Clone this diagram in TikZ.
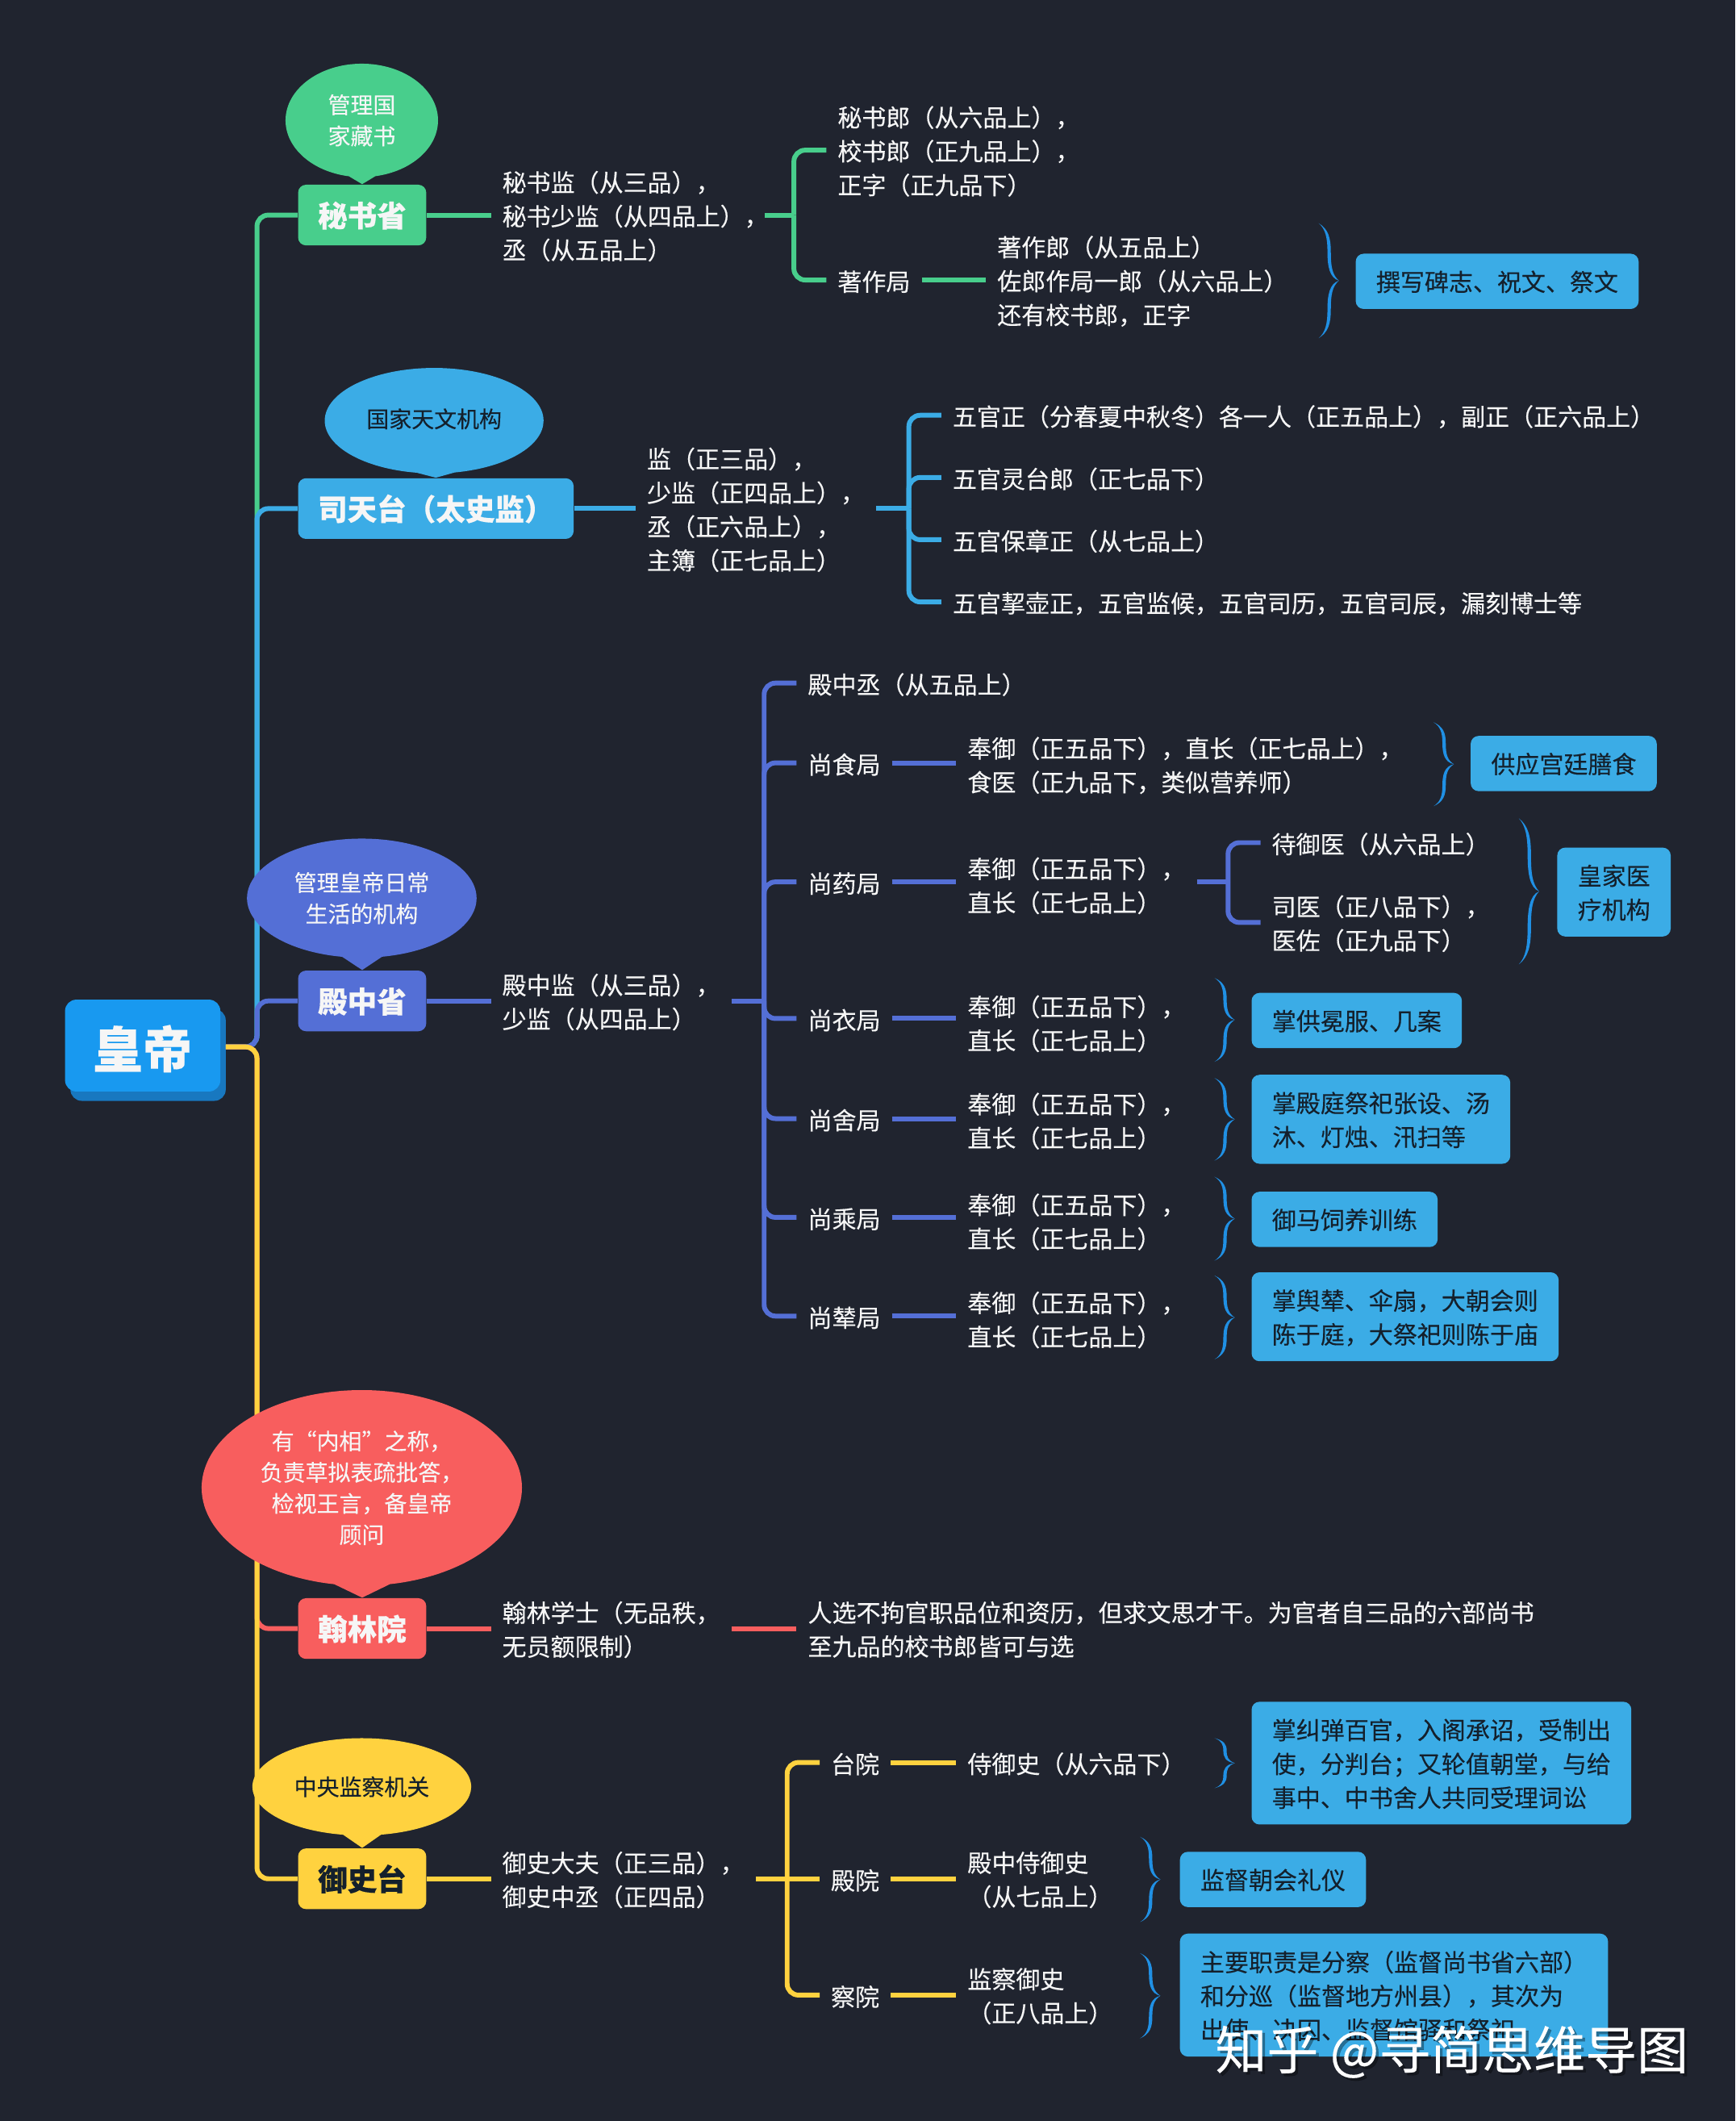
\documentclass[tikz,border=0pt]{standalone}
\usepackage{fontspec}
\setmainfont{Noto Sans CJK SC}[FakeBold=0.2]
\usetikzlibrary{shapes.callouts,shadows}
\definecolor{bgcol}{HTML}{20242F}
\definecolor{grn}{HTML}{48CE8C}
\definecolor{blu}{HTML}{3BACE6}
\definecolor{ind}{HTML}{546FD6}
\definecolor{red1}{HTML}{F85E5E}
\definecolor{yel}{HTML}{FFD23F}
\definecolor{rootcol}{HTML}{1899F0}
\definecolor{rootdark}{HTML}{1878C0}
\definecolor{bracecol}{HTML}{2090E4}
\definecolor{ink}{HTML}{14202C}
\definecolor{paper}{HTML}{F6F6F6}
\tikzset{
  lowered/.style={execute at begin node={\rule{0pt}{#1}}},
  plain/.style={anchor=west,inner xsep=3.8pt,inner ysep=0pt,align=left,text=paper,
    font=\fontsize{8.54}{11.93}\selectfont},
  txt/.style={plain,text depth=-1.2pt},
  txtone/.style={plain,lowered=8.4pt},
  branch/.style={anchor=west,fill=#1,rounded corners=2.8pt,inner xsep=7pt,inner ysep=0pt,lowered=9.3pt,
    minimum height=21.4pt,text=paper,font=\fontsize{10.4}{12}\selectfont\bfseries},
  panel/.style={anchor=west,fill=blu,rounded corners=2.8pt,inner xsep=7.2pt,
    align=left,text=ink,font=\fontsize{8.54}{11.93}\selectfont},
  note/.style={panel,inner ysep=6pt,text depth=.2pt},
  noteone/.style={panel,inner ysep=5.2pt,lowered=7.6pt,minimum height=19.5pt},
  bubble/.style={ellipse callout,fill=#1,inner sep=0pt,align=center,callout pointer arc=20,
    text=paper,font=\fontsize{7.95}{11}\selectfont},
  wire/.style={line width=1.7pt,draw=#1},
  fork/.style={line width=1.7pt,draw=#1,rounded corners=4pt}
}
\newcommand{\curly}[3]{%
  \pgfmathsetmacro{\ym}{(#2+#3)/2}
  \pgfmathsetmacro{\qq}{(#3-#2)/4}
  \fill[bracecol] (#1,#2) .. controls (#1+7,#2+\qq*.2) and (#1+9,#2+\qq*.5) .. (#1+9,#2+\qq)
    .. controls (#1+9,\ym-\qq*.5) and (#1+10,\ym-\qq*.2) .. (#1+15,\ym)
    .. controls (#1+10,\ym+\qq*.2) and (#1+9,\ym+\qq*.5) .. (#1+9,#3-\qq)
    .. controls (#1+9,#3-\qq*.5) and (#1+7,#3-\qq*.2) .. (#1,#3)
    .. controls (#1+5,#3-\qq*.2) and (#1+6.5,#3-\qq*.5) .. (#1+6.5,#3-\qq)
    .. controls (#1+6.5,\ym+\qq*.5) and (#1+8,\ym+\qq*.1) .. (#1+15,\ym)
    .. controls (#1+8,\ym-\qq*.1) and (#1+6.5,\ym-\qq*.5) .. (#1+6.5,#2+\qq)
    .. controls (#1+6.5,#2+\qq*.5) and (#1+5,#2+\qq*.2) .. (#1,#2) -- cycle;
}
\begin{document}
\begin{tikzpicture}[x=0.0167654cm,y=-0.0167654cm]
  \fill[bgcol] (0,0) rectangle (1283,1568.1);
  \useasboundingbox (0,0) rectangle (1283,1568.1);

  % root and the five offices
  \node[fill=rootcol,rounded corners=4pt,minimum width=54.8pt,minimum height=32.4pt,inner sep=0pt,lowered=17.3pt,
    general shadow={fill=rootdark,shadow xshift=1.9pt,shadow yshift=-3.3pt},
    text=paper,font=\fontsize{17.5}{20}\selectfont\bfseries] (root) at (105.5,773) {皇帝};
  \coordinate (rootout) at (167,774);
  \coordinate (trunk) at (190,774);
  \node[branch=grn] (mishu) at (220,159) {秘书省};
  \node[branch=blu] (sitian) at (220,376) {司天台（太史监）};
  \node[branch=ind] (dianzhong) at (220,740) {殿中省};
  \node[branch=red1] (hanlin) at (220,1204) {翰林院};
  \node[branch=yel,text=ink] (yushi) at (220,1389) {御史台};

  \draw[fork=grn] (rootout) -- (trunk) -- (trunk|-mishu.west) -- (mishu.west);
  \draw[fork=blu] (rootout) -- (trunk) -- (trunk|-sitian.west) -- (sitian.west);
  \draw[fork=ind] (rootout) -- (trunk) -- (trunk|-dianzhong.west) -- (dianzhong.west);
  \draw[fork=red1] (rootout) -- (trunk) -- (trunk|-hanlin.west) -- (hanlin.west);
  \draw[fork=yel] (rootout) -- (trunk) -- (trunk|-yushi.west) -- (yushi.west);

  % bubbles
  \node[bubble=grn,minimum width=53.8pt,minimum height=40pt,callout absolute pointer={(mishu.north)}]
    (bub1) at (267.5,89) {管理国\\家藏书};
  \node[bubble=blu,text=ink,minimum width=77.2pt,minimum height=37.2pt,callout absolute pointer={(sitian.north)}]
    (bub2) at (321,311) {\raisebox{1.9pt}{国家天文机构}};
  \node[bubble=ind,minimum width=81pt,minimum height=42pt,callout absolute pointer={(dianzhong.north)}]
    (bub3) at (267.5,664) {管理皇帝日常\\生活的机构};
  \node[bubble=red1,minimum width=113pt,minimum height=69pt,callout absolute pointer={(hanlin.north)}]
    (bub4) at (267.5,1100) {有“内相”之称，\\负责草拟表疏批答，\\检视王言，备皇帝\\顾问};
  \node[bubble=yel,text=ink,minimum width=77.2pt,minimum height=34.3pt,callout absolute pointer={(yushi.north)}]
    (bub5) at (267.5,1321) {中央监察机关};

  % 秘书省
  \node[txt] (ms) at (363,159) {秘书监（从三品），\\秘书少监（从四品上），\\丞（从五品上）};
  \coordinate (msf) at (587,159);
  \node[txt] (msa) at (611,111) {秘书郎（从六品上），\\校书郎（正九品上），\\正字（正九品下）};
  \node[txtone] (msb) at (611,207) {著作局};
  \node[txt] (msc) at (729,207) {著作郎（从五品上）\\佐郎作局一郎（从六品上）\\还有校书郎，正字};
  \node[noteone] (msn) at (1002,208) {撰写碑志、祝文、祭文};
  \draw[wire=grn] (mishu) -- (ms);
  \draw[wire=grn] ([xshift=-5.4pt]ms.east) -- (msf);
  \draw[fork=grn] (msf) |- (msa.west);
  \draw[fork=grn] (msf) |- (msb.west);
  \draw[wire=grn] (msb) -- (msc);
  \curly{975}{165}{250}

  % 司天台
  \node[txt] (st) at (470,376) {监（正三品），\\少监（正四品上），\\丞（正六品上），\\主簿（正七品上）};
  \coordinate (stf) at (672,376);
  \node[txtone] (sta) at (696,307) {五官正（分春夏中秋冬）各一人（正五品上），副正（正六品上）};
  \node[txtone] (stb) at (696,353) {五官灵台郎（正七品下）};
  \node[txtone] (stc) at (696,399) {五官保章正（从七品上）};
  \node[txtone] (std) at (696,445) {五官挈壶正，五官监候，五官司历，五官司辰，漏刻博士等};
  \draw[wire=blu] (sitian) -- (st);
  \draw[wire=blu] (st) -- (stf);
  \draw[fork=blu] (stf) |- (sta.west);
  \draw[fork=blu] (stf) |- (stb.west);
  \draw[fork=blu] (stf) |- (stc.west);
  \draw[fork=blu] (stf) |- (std.west);

  % 殿中省
  \node[txt] (dz) at (363,740) {殿中监（从三品），\\少监（从四品上）};
  \coordinate (dzf) at (565,740);
  \node[txtone] (dza) at (589,505) {殿中丞（从五品上）};
  \node[txtone] (dzb) at (589,564) {尚食局};
  \node[txtone] (dzc) at (589,652) {尚药局};
  \node[txtone] (dzd) at (589,753) {尚衣局};
  \node[txtone] (dze) at (589,827) {尚舍局};
  \node[txtone] (dzg) at (589,900) {尚乘局};
  \node[txtone] (dzh) at (589,973) {尚辇局};
  \node[txt] (dzb1) at (707,565) {奉御（正五品下），直长（正七品上），\\食医（正九品下，类似营养师）};
  \node[txt] (dzc1) at (707,654) {奉御（正五品下），\\直长（正七品上）};
  \node[txt] (dzd1) at (707,756) {奉御（正五品下），\\直长（正七品上）};
  \node[txt] (dze1) at (707,828) {奉御（正五品下），\\直长（正七品上）};
  \node[txt] (dzg1) at (707,902.5) {奉御（正五品下），\\直长（正七品上）};
  \node[txt] (dzh1) at (707,975) {奉御（正五品下），\\直长（正七品上）};
  \coordinate (yaof) at (908,652);
  \node[txtone] (yaoa) at (932,623) {待御医（从六品上）};
  \node[txt] (yaob) at (932,682) {司医（正八品下），\\医佐（正九品下）};
  \node[noteone] (dzbn) at (1087,564.5) {供应宫廷膳食};
  \node[note,align=center] (yaon) at (1151,659.5) {皇家医\\疗机构};
  \node[noteone] (dzdn) at (925,754.5) {掌供冕服、几案};
  \node[note] (dzen) at (925,827.5) {掌殿庭祭祀张设、汤\\沐、灯烛、汛扫等};
  \node[noteone] (dzgn) at (925,901.5) {御马饲养训练};
  \node[note] (dzhn) at (925,973.5) {掌舆辇、伞扇，大朝会则\\陈于庭，大祭祀则陈于庙};
  \draw[wire=ind] (dianzhong) -- (dz);
  \draw[wire=ind] (dz) -- (dzf);
  \draw[fork=ind] (dzf) |- (dza.west);
  \draw[fork=ind] (dzf) |- (dzb.west);
  \draw[fork=ind] (dzf) |- (dzc.west);
  \draw[fork=ind] (dzf) |- (dzd.west);
  \draw[fork=ind] (dzf) |- (dze.west);
  \draw[fork=ind] (dzf) |- (dzg.west);
  \draw[fork=ind] (dzf) |- (dzh.west);
  \draw[wire=ind] (dzb) -- (dzb1.west|-dzb);
  \draw[wire=ind] (dzc) -- (dzc1.west|-dzc);
  \draw[wire=ind] (dzd) -- (dzd1.west|-dzd);
  \draw[wire=ind] (dze) -- (dze1.west|-dze);
  \draw[wire=ind] (dzg) -- (dzg1.west|-dzg);
  \draw[wire=ind] (dzh) -- (dzh1.west|-dzh);
  \draw[wire=ind] (dzc1.east|-yaof) -- (yaof);
  \draw[fork=ind] (yaof) |- (yaoa.west);
  \draw[fork=ind] (yaof) |- (yaob.west);
  \curly{1060}{534}{596}
  \curly{1123}{605}{713}
  \curly{898}{723}{785}
  \curly{898}{797}{858}
  \curly{898}{870}{932}
  \curly{898}{943}{1005}

  % 翰林院
  \node[txt] (hl) at (363,1204) {翰林学士（无品秩，\\无员额限制）};
  \node[txt] (hla) at (589,1204) {人选不拘官职品位和资历，但求文思才干。为官者自三品的六部尚书\\至九品的校书郎皆可与选};
  \draw[wire=red1] (hanlin) -- (hl);
  \draw[wire=red1] (hl) -- (hla);

  % 御史台
  \node[txt] (ys) at (363,1389) {御史大夫（正三品），\\御史中丞（正四品）};
  \coordinate (ysf) at (582,1389);
  \node[txtone] (ysa) at (606,1303) {台院};
  \node[txtone] (ysb) at (606,1389) {殿院};
  \node[txtone] (ysc) at (606,1475) {察院};
  \node[txtone] (ysa1) at (707,1303) {侍御史（从六品下）};
  \node[txt] (ysb1) at (707,1389) {殿中侍御史\\（从七品上）};
  \node[txt] (ysc1) at (707,1475) {监察御史\\（正八品上）};
  \node[note] (ysan) at (925,1303.5) {掌纠弹百官，入阁承诏，受制出\\使，分判台；又轮值朝堂，与给\\事中、中书舍人共同受理词讼};
  \node[noteone] (ysbn) at (872,1389.5) {监督朝会礼仪};
  \node[note] (yscn) at (872,1475) {主要职责是分察（监督尚书省六部）\\和分巡（监督地方州县），其次为\\出使、决囚、监督馆驿和祭祀};
  \draw[wire=yel] (yushi) -- (ys);
  \draw[wire=yel] (ys) -- (ysf);
  \draw[fork=yel] (ysf) |- (ysa.west);
  \draw[wire=yel] (ysf) -- (ysb);
  \draw[fork=yel] (ysf) |- (ysc.west);
  \draw[wire=yel] (ysa) -- (ysa1);
  \draw[wire=yel] (ysb) -- (ysb1);
  \draw[wire=yel] (ysc) -- (ysc1);
  \curly{898}{1285}{1322}
  \curly{843}{1358}{1421}
  \curly{843}{1444}{1507}

  % watermark
  \node[text=black,opacity=.35,font=\fontsize{18.2}{20}\selectfont] (marks) at (1075.5,1519) {知乎 @寻简思维导图};
  \node[text=white,font=\fontsize{18.2}{20}\selectfont] (mark) at (1073.5,1517) {知乎 @寻简思维导图};
\end{tikzpicture}
\end{document}
